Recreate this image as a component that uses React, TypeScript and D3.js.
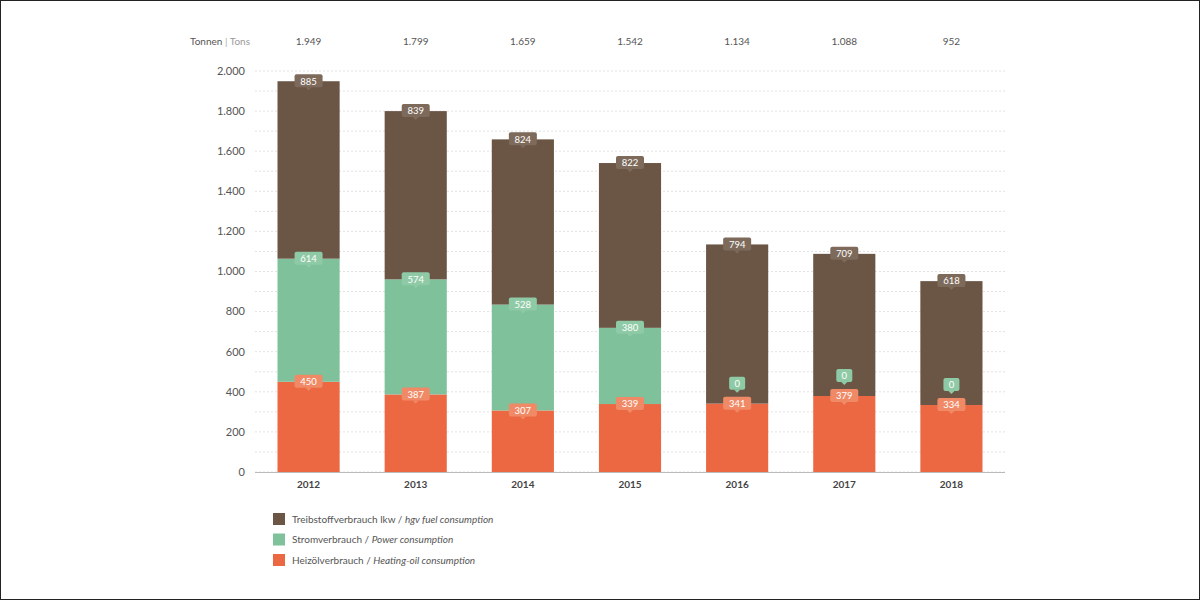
import React from 'react';
import * as d3 from 'd3';

const years = ['2012', '2013', '2014', '2015', '2016', '2017', '2018'];
const heating = [450, 387, 307, 339, 341, 379, 334];
const power = [614, 574, 528, 380, 0, 0, 0];
const fuel = [885, 839, 824, 822, 794, 709, 618];
const totals = ['1.949', '1.799', '1.659', '1.542', '1.134', '1.088', '952'];
const yTicks = [0, 200, 400, 600, 800, 1000, 1200, 1400, 1600, 1800, 2000];
const gridTicks = d3.range(0, 2001, 100);

const seriesList = [
  { key: 'heating', values: heating, color: '#ec6842', badge: '#f08a66', de: 'Heizölverbrauch', en: 'Heating-oil consumption' },
  { key: 'power', values: power, color: '#7fc19b', badge: '#8fcaa6', de: 'Stromverbrauch', en: 'Power consumption' },
  { key: 'fuel', values: fuel, color: '#6b5646', badge: '#7d6a5b', de: 'Treibstoffverbrauch lkw', en: 'hgv fuel consumption' },
];

const fmt = (v: number) => d3.format(',')(v).replace(/,/g, '.');

export default function App() {
  const width = 1200, height = 600;
  const left = 255, right = 1005, top = 71, bottom = 472;
  const x = d3.scaleBand<string>().domain(years).range([left, right]).paddingInner(0.42).paddingOuter(0.21);
  const y = d3.scaleLinear().domain([0, 2000]).range([bottom, top]);
  const font = 'Lato, "Open Sans", sans-serif';

  const stacked = years.map((_, i) => {
    let acc = 0;
    return seriesList.map(s => {
      const y0 = acc;
      acc += s.values[i];
      return { y0, y1: acc, v: s.values[i], s };
    });
  });

  return (
    <svg width={width} height={height} style={{ position: 'absolute', left: 0, top: 0, fontFamily: font }}>
      <rect x={0.5} y={0.5} width={width - 1} height={height - 1} fill="#fff" stroke="#222" />
      {gridTicks.map(t => (
        <line key={t} x1={left} x2={right} y1={y(t)} y2={y(t)} stroke="#e2e2e2" strokeDasharray="2,2" />
      ))}
      <line x1={left} x2={right} y1={bottom + 0.5} y2={bottom + 0.5} stroke="#bbb" />
      {yTicks.map(t => (
        <text key={t} x={left - 10} y={y(t)} dy="0.35em" textAnchor="end" fontSize={11} fill="#555">{fmt(t)}</text>
      ))}
      <text x={220} y={45} textAnchor="middle" fontSize={10} fill="#555">Tonnen <tspan fill="#aaa">|</tspan> <tspan fill="#999">Tons</tspan></text>
      {years.map((yr, i) => (
        <g key={yr}>
          <text x={x(yr)! + x.bandwidth() / 2} y={45} textAnchor="middle" fontSize={10} fill="#555">{totals[i]}</text>
          <text x={x(yr)! + x.bandwidth() / 2} y={488} textAnchor="middle" fontSize={10} fontWeight="bold" fill="#444">{yr}</text>
          {stacked[i].map(d => (
            <rect key={d.s.key} x={x(yr)} width={x.bandwidth()} y={y(d.y1)} height={y(d.y0) - y(d.y1)} fill={d.s.color} />
          ))}
          {stacked[i].map(d => {
            const cx = x(yr)! + x.bandwidth() / 2;
            const cy = y(d.y1) - (d.v === 0 ? 20 : 0);
            const w = String(d.v).length * 6 + 10;
            return (
              <g key={d.s.key + 'b'}>
                <rect x={cx - w / 2} y={cy - 7} width={w} height={13} rx={2} fill={d.s.badge} />
                <path d={`M${cx - 3},${cy + 6}L${cx + 3},${cy + 6}L${cx},${cy + 9}Z`} fill={d.s.badge} />
                <text x={cx} y={cy} dy="0.35em" textAnchor="middle" fontSize={9.5} fill="#fff">{d.v}</text>
              </g>
            );
          })}
        </g>
      ))}
      {[...seriesList].reverse().map((s, i) => (
        <g key={s.key} transform={`translate(273,${513 + i * 20.5})`}>
          <rect width={12} height={12} fill={s.color} />
          <text x={19} y={6} dy="0.35em" fontSize={10} fill="#555">{s.de}  /  <tspan fontStyle="italic">{s.en}</tspan></text>
        </g>
      ))}
    </svg>
  );
}
